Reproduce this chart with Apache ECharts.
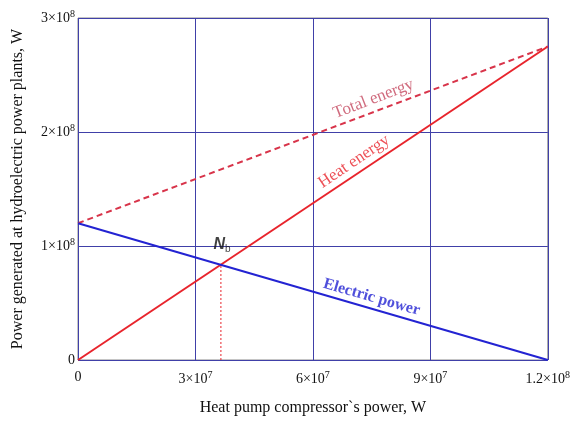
<!DOCTYPE html>
<html>
<head>
<meta charset="utf-8">
<script src="https://cdn.jsdelivr.net/npm/echarts@6/dist/echarts.min.js"></script>
<style>
  html, body { margin: 0; padding: 0; background: #fff; }
  #chart { width: 573px; height: 422px; }
</style>
</head>
<body>
<div id="chart"></div>
<script>
// compressor power (x) at the two ends of the lines
const compressorPower = [0, 1.2e8]
const heatEnergy = [0, 2.75e8]
const electricPower = [1.2e8, 0]
const totalEnergy = [1.2e8, 2.75e8]

// balance point N_b
const nbPoint = [3.65e7, 0.835e8]

const serif = '"Liberation Serif", "DejaVu Serif", serif'
const red = '#e8242c'
const blue = '#2323d2'
const gridBlue = '#4040a8'

function sciLabel(v) {
  if (v === 0) return '0'
  const e = Math.floor(Math.log10(v))
  const m = Math.round(v / Math.pow(10, e) * 100) / 100
  return m + '×10{sup|' + e + '}'
}

const tickRich = {
  sup: { fontSize: 10, fontFamily: serif, color: '#111', verticalAlign: 'bottom', padding: [0, 0, 8, 0] }
}

const pairs = (xs, ys) => xs.map((x, i) => [x, ys[i]])

// text placed on the chart, in data coordinates
function textMark(coord, text, rotate, color, extra) {
  return {
    type: 'scatter', data: [coord], symbolSize: 0, silent: true,
    label: Object.assign({
      show: true, position: 'inside', formatter: text, rotate: rotate,
      fontFamily: serif, fontSize: 17, color: color
    }, extra || {})
  }
}

const chart = echarts.init(document.getElementById('chart'), null, { renderer: 'canvas' })

chart.setOption({
  animation: false,
  grid: { left: 78, right: 25, top: 18, bottom: 62, show: true, borderColor: '#8a8a8a', borderWidth: 1 },
  xAxis: {
    type: 'value', min: 0, max: 1.2e8, interval: 3e7,
    name: 'Heat pump compressor`s power, W',
    nameLocation: 'middle', nameGap: 40,
    nameTextStyle: { fontFamily: serif, fontSize: 16, color: '#111' },
    axisLine: { show: false },
    axisTick: { show: false },
    splitLine: { lineStyle: { color: gridBlue, width: 1 } },
    axisLabel: {
      margin: 10, fontFamily: serif, fontSize: 14, color: '#111',
      formatter: sciLabel, rich: tickRich, showMaxLabel: true
    }
  },
  yAxis: {
    type: 'value', min: 0, max: 3e8, interval: 1e8,
    name: 'Power generated at hydroelectric power plants, W',
    nameLocation: 'middle', nameGap: 52,
    nameTextStyle: { fontFamily: serif, fontSize: 16, color: '#111' },
    axisLine: { show: false },
    axisTick: { show: false },
    splitLine: { lineStyle: { color: gridBlue, width: 1 } },
    axisLabel: {
      margin: 3, fontFamily: serif, fontSize: 14, color: '#111',
      formatter: sciLabel, rich: tickRich
    }
  },
  series: [
    { type: 'line', data: pairs(compressorPower, heatEnergy), symbol: 'none', lineStyle: { color: red, width: 2 } },
    { type: 'line', data: pairs(compressorPower, totalEnergy), symbol: 'none', lineStyle: { color: '#d8344a', width: 2, type: [6, 4] } },
    { type: 'line', data: pairs(compressorPower, electricPower), symbol: 'none', lineStyle: { color: blue, width: 2 } },
    { type: 'line', data: [[nbPoint[0], 0], nbPoint], symbol: 'none', lineStyle: { color: red, width: 1, type: [2, 2] } },
    textMark([7.05e7, 1.74e8], 'Heat energy', 34, red),
    textMark([7.55e7, 2.29e8], 'Total energy', 21, '#c4465e'),
    textMark([7.5e7, 0.55e8], 'Electric power', -16, blue, { fontWeight: 'bold', fontSize: 16 }),
    textMark([3.68e7, 1.015e8], '{n|N}{b|b}', 0, '#111', {
      rich: {
        n: { fontFamily: '"Liberation Sans", Arial, sans-serif', fontSize: 16, fontWeight: 'bold', fontStyle: 'italic', color: '#111' },
        b: { fontFamily: '"Liberation Sans", Arial, sans-serif', fontSize: 10, color: '#111', verticalAlign: 'top', padding: [10, 0, 0, 0] }
      }
    })
  ]
})
</script>
</body>
</html>
